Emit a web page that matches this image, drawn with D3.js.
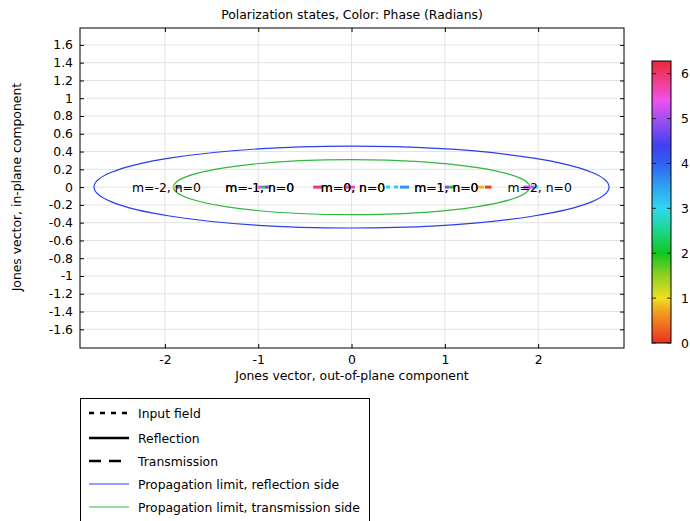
<!DOCTYPE html>
<html>
<head>
<meta charset="utf-8">
<script src="https://d3js.org/d3.v7.min.js"></script>
<style>
  body { margin: 0; background: #fff; }
  text { font-family: "DejaVu Sans", sans-serif; fill: #000; }
</style>
</head>
<body>
<svg id="chart" width="690" height="521"></svg>
<script>
// ---- data ----
const xTicks = [-2, -1, 0, 1, 2];
const yTicks = [-1.6, -1.4, -1.2, -1, -0.8, -0.6, -0.4, -0.2, 0, 0.2, 0.4, 0.6, 0.8, 1, 1.2, 1.4, 1.6];
const phaseTicks = [0, 1, 2, 3, 4, 5, 6];

// propagation limits (semi axes)
const reflLimit = { a: 2.76, b: 0.46 };
const transLimit = { a: 1.91, b: 0.31 };

// diffraction orders
const reflOrders = [-2, -1, 0, 1, 2];
const transOrders = [-1, 0, 1];

// polarization segments: x0, x1 (out-of-plane comp.), phase, kind
const segX0 = [-1.91, -1.88, -1.85, -1.0, -0.96, -0.93, -0.41, -0.06, 0.37, 0.52, 1.0, 1.05, 1.35, 1.43, 1.84, 1.96];
const segX1 = [-1.88, -1.85, -1.82, -0.96, -0.93, -0.89, -0.31, 0.04, 0.50, 0.65, 1.05, 1.1, 1.42, 1.5, 1.96, 2.0];
const segPhase = [0.9, 4.7, 2.2, 5.5, 2.2, 4.6, 6.0, 5.6, 3.1, 3.6, 4.8, 2.1, 0.8, 0.1, 5.2, 3.0];
const segKind = ["refl", "refl", "trans", "refl", "trans", "refl", "refl", "trans", "input", "trans", "refl", "trans", "trans", "refl", "refl", "refl"];

// colormap stops
const cmapPos = [0, 0.3, 0.7, 1, 1.5, 2, 2.6, 3, 3.5, 4, 4.4, 5, 5.4, 5.8, 6.2832];
const cmapCol = ["#e83020", "#f06020", "#f0a020", "#f0e020", "#90d020", "#10c820", "#20d8a0", "#30d8f0", "#30a0f0", "#3060f0", "#4040f0", "#a050f0", "#f050f0", "#f04090", "#e8283a"];

const legendLabels = ["Input field", "Reflection", "Transmission", "Propagation limit, reflection side", "Propagation limit, transmission side"];

// ---- chart ----
const svg = d3.select('#chart');
const L = 80, R = 624, T = 28, B = 348;
const FS = 12.4;
const x = d3.scaleLinear().domain([-2.91, 2.92]).range([L, R]);
const y = d3.scaleLinear().domain([-1.81, 1.79]).range([B, T]);
const color = d3.scaleLinear().domain(cmapPos).range(cmapCol);
const fmt = d => String(+d.toFixed(1));

const dashes = { input: "4,4", refl: null, trans: "9,5" };

// grid
svg.append('g').selectAll('line').data(xTicks).join('line')
  .attr('x1', d => x(d)).attr('x2', d => x(d)).attr('y1', T).attr('y2', B)
  .attr('stroke', '#e2e2e2');
svg.append('g').selectAll('line').data(yTicks).join('line')
  .attr('y1', d => y(d)).attr('y2', d => y(d)).attr('x1', L).attr('x2', R)
  .attr('stroke', '#e2e2e2');

// axes (ticks inward on all sides)
svg.append('g').attr('transform', `translate(0,${B})`)
  .call(d3.axisBottom(x).tickValues(xTicks).tickSizeInner(-4).tickSizeOuter(0).tickFormat(fmt).tickPadding(7));
svg.append('g').attr('transform', `translate(0,${T})`)
  .call(d3.axisTop(x).tickValues(xTicks).tickSizeInner(-4).tickSizeOuter(0).tickFormat(''));
svg.append('g').attr('transform', `translate(${L},0)`)
  .call(d3.axisLeft(y).tickValues(yTicks).tickSizeInner(-4).tickSizeOuter(0).tickFormat(fmt).tickPadding(7));
svg.append('g').attr('transform', `translate(${R},0)`)
  .call(d3.axisRight(y).tickValues(yTicks).tickSizeInner(-4).tickSizeOuter(0).tickFormat(''));
svg.selectAll('.domain').remove();
svg.selectAll('.tick text').attr('font-size', FS).attr('font-family', 'DejaVu Sans');
svg.selectAll('.tick line').attr('stroke', '#000');
svg.append('rect').attr('x', L).attr('y', T).attr('width', R - L).attr('height', B - T)
  .attr('fill', 'none').attr('stroke', '#000');

// propagation limits
const lim = svg.append('g');
lim.append('ellipse').attr('cx', x(0)).attr('cy', y(0))
  .attr('rx', x(reflLimit.a) - x(0)).attr('ry', y(0) - y(reflLimit.b))
  .attr('fill', 'none').attr('stroke', '#2a3ef0').attr('stroke-width', 1.2);
lim.append('ellipse').attr('cx', x(0)).attr('cy', y(0))
  .attr('rx', x(transLimit.a) - x(0)).attr('ry', y(0) - y(transLimit.b))
  .attr('fill', 'none').attr('stroke', '#30b840').attr('stroke-width', 1.2);

// polarization segments
svg.append('g').selectAll('line').data(segX0).join('line')
  .attr('x1', (d, i) => x(d)).attr('x2', (d, i) => x(segX1[i]))
  .attr('y1', y(0)).attr('y2', y(0))
  .attr('stroke', (d, i) => color(segPhase[i]))
  .attr('stroke-width', 3)
  .attr('stroke-dasharray', (d, i) => dashes[segKind[i]]);

// order labels
const lbl = svg.append('g').attr('font-size', 12.4).attr('text-anchor', 'middle');
lbl.selectAll('text.r').data(reflOrders).join('text').attr('class', 'r')
  .attr('x', d => x(d) + 1.5).attr('y', y(0) + 4.5).text(d => `m=${d}, n=0`);
lbl.selectAll('text.t').data(transOrders).join('text').attr('class', 't')
  .attr('x', d => x(d) + 1.5).attr('y', y(0) + 4.5).text(d => `m=${d}, n=0`);

// titles
svg.append('text').attr('x', 352).attr('y', 19).attr('text-anchor', 'middle').attr('font-size', FS)
  .text('Polarization states, Color: Phase (Radians)');
svg.append('text').attr('x', 352).attr('y', 380).attr('text-anchor', 'middle').attr('font-size', FS)
  .text('Jones vector, out-of-plane component');
svg.append('text').attr('transform', `translate(21,${y(0)}) rotate(-90)`).attr('text-anchor', 'middle').attr('font-size', FS)
  .text('Jones vector, in-plane component');

// colorbar
const cb = { x: 652, w: 19 };
const cy = d3.scaleLinear().domain([0, 2 * Math.PI]).range([343, 61]);
const grad = svg.append('defs').append('linearGradient').attr('id', 'cmap')
  .attr('x1', 0).attr('x2', 0).attr('y1', 1).attr('y2', 0);
grad.selectAll('stop').data(cmapPos).join('stop')
  .attr('offset', d => d / (2 * Math.PI)).attr('stop-color', (d, i) => cmapCol[i]);
svg.append('rect').attr('x', cb.x).attr('y', cy(2 * Math.PI)).attr('width', cb.w)
  .attr('height', cy(0) - cy(2 * Math.PI)).attr('fill', 'url(#cmap)').attr('stroke', '#000');
const cbt = svg.append('g');
cbt.selectAll('line.l').data(phaseTicks).join('line').attr('class', 'l')
  .attr('x1', cb.x).attr('x2', cb.x + 4).attr('y1', d => cy(d)).attr('y2', d => cy(d)).attr('stroke', '#222');
cbt.selectAll('line.r').data(phaseTicks).join('line').attr('class', 'r')
  .attr('x1', cb.x + cb.w - 4).attr('x2', cb.x + cb.w).attr('y1', d => cy(d)).attr('y2', d => cy(d)).attr('stroke', '#222');
cbt.selectAll('text').data(phaseTicks).join('text')
  .attr('x', 681).attr('y', d => cy(d) + 4.5).attr('font-size', FS).text(d => d);

// legend
const lg = svg.append('g');
lg.append('rect').attr('x', 80.5).attr('y', 398.5).attr('width', 289).attr('height', 130)
  .attr('fill', '#fff').attr('stroke', '#000');
const lgY = [413, 438, 461, 484, 507];
const lgStroke = ['#000', '#000', '#000', '#2a3ef0', '#30b840'];
const lgWidth = [2.5, 2.5, 2.5, 1, 1];
const lgDash = ['5,6', null, '12,8', null, null];
lg.selectAll('line').data(legendLabels).join('line')
  .attr('x1', 89).attr('x2', 129).attr('y1', (d, i) => lgY[i]).attr('y2', (d, i) => lgY[i])
  .attr('stroke', (d, i) => lgStroke[i]).attr('stroke-width', (d, i) => lgWidth[i])
  .attr('stroke-dasharray', (d, i) => lgDash[i]);
lg.selectAll('text').data(legendLabels).join('text')
  .attr('x', 138).attr('y', (d, i) => lgY[i] + 4.5).attr('font-size', FS).text(d => d);
</script>
</body>
</html>
